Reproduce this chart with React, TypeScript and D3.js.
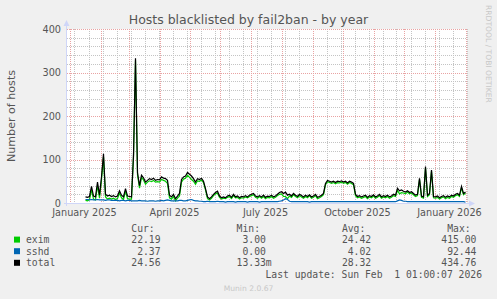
import React from 'react';
import * as d3 from 'd3';

const W = 497;
const H = 299;

// daily-average samples, one every 2 days starting 2025-01-17
const dataStartUTC = Date.UTC(2025, 0, 17);
const stepDays = 2;

const exim = [
  6, 5, 8, 30, 9, 7, 40, 11, 53, 106, 14, 9, 11,
  9, 11, 8, 10, 23, 12, 8, 28, 10, 9, 9,
  105, 328, 65, 34, 59, 53, 43, 48, 51, 49, 52, 48, 49, 48, 54, 52, 50, 45,
  12, 9, 15, 5, 11, 16, 48, 55, 57, 64, 59, 54, 50, 43, 51, 50, 53, 47, 30, 10, 7,
  11, 17, 21, 23, 13, 9, 11, 10, 13, 15, 10, 17, 12, 13, 9, 12, 11, 14, 12, 15, 17, 19, 13, 11, 15, 11, 15, 10, 13, 12, 15, 11, 13, 17, 20, 21,
  15, 15, 10, 16, 13, 19, 15, 12, 17, 14, 11, 15, 12, 17, 11, 13, 17, 10, 12, 15, 19,
  42, 49, 47, 45, 47, 44, 47, 46, 48, 45, 47, 43, 47, 45, 42, 17, 12, 14, 11, 13, 15, 10, 14, 12, 16, 11, 13, 17, 11, 14, 12, 15, 11, 13, 17, 15,
  29, 21, 24, 23, 21, 25, 21, 23, 19, 15, 17, 54, 13, 11, 81, 15, 19, 73, 12, 11, 13, 9, 12, 14, 10, 13, 11, 15, 13, 17, 19, 15, 35, 19, 23,
];

const sshd = [
  8, 8, 7, 8, 7, 7, 8, 7, 7, 7, 6, 7, 7,
  6, 6, 6, 6, 5, 6, 6, 5, 6, 6, 5,
  5, 5, 5, 6, 5, 5, 5, 4, 5, 5, 5, 4, 5, 5, 6, 5, 6, 7,
  6, 5, 5, 5, 5, 6, 6, 5, 5, 6, 7, 8, 6, 5, 5, 4, 4, 3, 3, 4, 3,
  3, 3, 3, 4, 3, 3, 3, 2, 3, 3, 3, 3, 2, 3, 3, 3, 3, 3, 2, 3, 3, 3, 3, 3, 2, 3, 3, 3, 3, 3, 3, 3, 3, 3, 4, 5,
  7, 10, 8, 4, 3, 3, 3, 3, 3, 3, 3, 3, 3, 2, 3, 3, 3, 3, 3, 3, 3,
  3, 3, 3, 3, 3, 3, 3, 3, 3, 3, 3, 3, 3, 3, 3, 3, 3, 3, 3, 3, 3, 3, 3, 3, 3, 3, 3, 3, 3, 3, 3, 3, 3, 3, 3, 3,
  5, 7, 6, 4, 4, 3, 3, 3, 3, 3, 3, 3, 3, 3, 3, 3, 3, 3, 3, 3, 3, 3, 3, 3, 3, 3, 3, 3, 3, 3, 3, 3, 3, 3, 2,
];

const seriesNames = ['exim', 'sshd', 'total'];
const seriesColors = ['#00CC00', '#0066B3', '#000000'];
const curVals = [22.19, 2.37, 24.56];
const minVals = [3.0, 0.0, 0.01333];
const avgVals = [24.42, 4.02, 28.32];
const maxVals = [415.0, 92.44, 434.76];
const legendHeaders = ['Cur:', 'Min:', 'Avg:', 'Max:'];

const yTicks = [0, 100, 200, 300, 400];
const title = 'Hosts blacklisted by fail2ban - by year';
const yLabel = 'Number of hosts';
const lastUpdate = 'Last update: Sun Feb  1 01:00:07 2026';
const version = 'Munin 2.0.67';
const watermark = 'RRDTOOL / TOBI OETIKER';

function fmt(v: number): [string, string] {
  if (v !== 0 && Math.abs(v) < 1) return [(v * 1000).toFixed(2), 'm'];
  return [v.toFixed(2), ''];
}

export default function App() {
  const left = 67;
  const right = 467;
  const top = 29;
  const bottom = 203;
  const domStart = new Date(Date.UTC(2024, 11, 29, 12));
  const domEnd = new Date(Date.UTC(2026, 1, 2, 12));
  const x = d3.scaleUtc().domain([domStart, domEnd]).range([left, right]);
  const y = d3.scaleLinear().domain([0, 400]).range([bottom, top]);

  const day = 86400000;
  const pts = exim.map((e, i) => ({
    date: new Date(dataStartUTC + i * stepDays * day),
    exim: e,
    sshd: sshd[i],
    total: e + sshd[i],
  }));

  const mk = (key: 'exim' | 'sshd' | 'total') =>
    d3
      .line<any>()
      .x((d) => x(d.date))
      .y((d) => y(d[key]))(pts) || '';

  const majorX = d3.utcMonth.range(domStart, domEnd);
  const minorX = d3.utcMonday.range(new Date(Date.UTC(2025, 0, 6)), domEnd, 2);
  const minorY = d3.range(0, 401, 20).filter((v) => v % 100 !== 0);
  const labelMonths = d3.utcMonth.every(3)!.range(domStart, domEnd);
  const monthFmt = d3.utcFormat('%B %Y');

  const sans = 'DejaVu Sans, sans-serif';
  const mono = 'DejaVu Sans Mono, monospace';
  const fontCol = '#555555';

  const cw = 5.85;
  const lx = 26;
  const colEnds = [23, 41, 59, 77].map((c) => lx + c * cw);
  const headStarts = [18, 36, 54, 72].map((c) => lx + c * cw);
  const rowY = (i: number) => 231.5 + 11.6 * i;
  const stats = [curVals, minVals, avgVals, maxVals];

  return (
    <div style={{ position: 'absolute', left: 0, top: 0, width: W, height: H }}>
      <svg width={W} height={H} style={{ display: 'block' }}>
        <rect x={0} y={0} width={W} height={H} fill="#F0F0F0" />
        <rect x={left} y={top} width={right - left} height={bottom - top} fill="#FFFFFF" />

        {/* minor grid */}
        <g stroke="#C4C4C4" strokeWidth={1} strokeDasharray="1,1" shapeRendering="crispEdges">
          {minorY.map((v) => (
            <line key={'my' + v} x1={left} x2={right} y1={Math.round(y(v)) + 0.5} y2={Math.round(y(v)) + 0.5} />
          ))}
          {minorX.map((d, i) => (
            <line key={'mx' + i} x1={Math.round(x(d)) + 0.5} x2={Math.round(x(d)) + 0.5} y1={top} y2={bottom} />
          ))}
        </g>
        {/* major grid */}
        <g stroke="#E9A3A3" strokeWidth={1} strokeDasharray="1,1" shapeRendering="crispEdges">
          {yTicks.map((v) => (
            <line key={'Y' + v} x1={left} x2={right} y1={Math.round(y(v)) + 0.5} y2={Math.round(y(v)) + 0.5} />
          ))}
          {majorX.map((d, i) => (
            <line key={'X' + i} x1={Math.round(x(d)) + 0.5} x2={Math.round(x(d)) + 0.5} y1={top} y2={bottom} />
          ))}
        </g>

        {/* axes */}
        <g stroke="#CFD6F8" strokeWidth={1} shapeRendering="crispEdges">
          <line x1={left - 0.5} x2={left - 0.5} y1={bottom + 3} y2={top - 5} />
          <line x1={left - 3} x2={right + 4} y1={bottom + 0.5} y2={bottom + 0.5} />
        </g>
        <path d={`M${left - 3.5},${top - 3} L${left - 0.5},${top - 9} L${left + 2.5},${top - 3} Z`} fill="#CFD6F8" />
        <path d={`M${right + 2},${bottom - 2.5} L${right + 8},${bottom + 0.5} L${right + 2},${bottom + 3.5} Z`} fill="#CFD6F8" />

        {/* series */}
        <path d={mk('exim')} fill="none" stroke={seriesColors[0]} strokeWidth={1.2} />
        <path d={mk('sshd')} fill="none" stroke={seriesColors[1]} strokeWidth={1.2} />
        <path d={mk('total')} fill="none" stroke={seriesColors[2]} strokeWidth={1.2} />

        {/* y tick labels */}
        {yTicks.map((v) => (
          <text key={'yl' + v} x={61} y={y(v) + 3.5} textAnchor="end" fontFamily={sans} fontSize={9.7} fill={fontCol}>
            {v}
          </text>
        ))}
        {/* x labels */}
        {labelMonths.map((d, i) => (
          <text key={'xl' + i} x={x(new Date(+d + 15 * day))} y={216} textAnchor="middle" fontFamily={sans} fontSize={9.7} fill={fontCol}>
            {monthFmt(d)}
          </text>
        ))}

        {/* title */}
        <text x={W / 2} y={24} textAnchor="middle" fontFamily={sans} fontSize={12.5} fill={fontCol}>
          {title}
        </text>
        {/* y label */}
        <text
          transform={`translate(15,${(top + bottom) / 2}) rotate(-90)`}
          textAnchor="middle"
          fontFamily={sans}
          fontSize={11.1}
          fill={fontCol}
        >
          {yLabel}
        </text>
        {/* watermark */}
        <text
          transform={`translate(486,5) rotate(90)`}
          textAnchor="start"
          fontFamily={sans}
          fontSize={7.6}
          fill="#C8C8C8"
        >
          {watermark}
        </text>

        {/* legend */}
        {legendHeaders.map((h, i) => (
          <text key={'h' + i} x={headStarts[i]} y={rowY(0)} fontFamily={mono} fontSize={9.72} fill={fontCol}>
            {h}
          </text>
        ))}
        {seriesNames.map((name, r) => (
          <g key={'row' + name}>
            <rect x={14} y={rowY(r + 1) - 6.5} width={6} height={6} fill={seriesColors[r]} />
            <text x={lx} y={rowY(r + 1)} fontFamily={mono} fontSize={9.72} fill={fontCol}>
              {name}
            </text>
            {stats.map((arr, c) => {
              const [num, suf] = fmt(arr[r]);
              return (
                <g key={'c' + c}>
                  <text x={colEnds[c]} y={rowY(r + 1)} textAnchor="end" fontFamily={mono} fontSize={9.72} fill={fontCol}>
                    {num}
                  </text>
                  {suf && (
                    <text x={colEnds[c]} y={rowY(r + 1)} fontFamily={mono} fontSize={9.72} fill={fontCol}>
                      {suf}
                    </text>
                  )}
                </g>
              );
            })}
          </g>
        ))}
        <text x={482} y={rowY(4)} textAnchor="end" fontFamily={mono} fontSize={9.72} fill={fontCol} style={{ whiteSpace: 'pre' }}>
          {lastUpdate}
        </text>
        <text x={W / 2} y={291} textAnchor="middle" fontFamily={sans} fontSize={7.6} fill="#C8C8C8">
          {version}
        </text>
      </svg>
    </div>
  );
}
